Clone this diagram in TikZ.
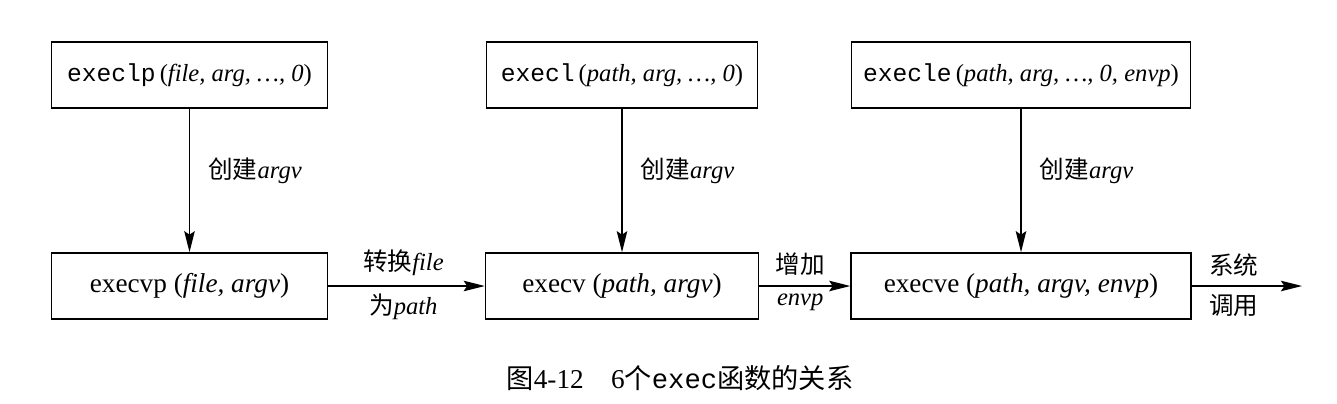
\documentclass[tikz,border=0pt]{standalone}
\usepackage{fontspec}
\setmainfont{Liberation Serif}
\setmonofont{Liberation Mono}
\newfontfamily\cjk{Noto Sans CJK SC}
\usetikzlibrary{arrows.meta,positioning}
\newcommand{\vname}[1]{{\rmfamily\itshape #1}}

\begin{document}
\begin{tikzpicture}[x=0.02cm,y=-0.02cm,font=\fontsize{14}{16}\selectfont,
   fn/.style={draw,line width=0.9pt,minimum height=1.32cm,inner sep=0pt},
   vfn/.style={fn,font=\fontsize{15.5}{18}\selectfont},
   flow/.style={-{Stealth[length=12pt,width=6pt,inset=2pt]},line width=0.8pt},
   lbl/.style={font=\fontsize{14}{16}\selectfont\cjk}]
  \useasboundingbox (0,0) rectangle (1337,403);
  % top row: list forms
  \node[fn,minimum width=5.52cm] (execlp) at (189.5,75) {\texttt{execlp}\,(\vname{file, arg, \ldots, 0})};
  \node[fn,minimum width=5.42cm] (execl) at (622,75) {\texttt{execl}\,(\vname{path, arg, \ldots, 0})};
  \node[fn,minimum width=6.78cm] (execle) at (1021,75) {\texttt{execle}\,(\vname{path, arg, \ldots, 0, envp})};
  % bottom row: vector forms
  \node[vfn,minimum width=5.52cm] (execvp) at (189.5,286) {execvp (\vname{file, argv})};
  \node[vfn,minimum width=5.46cm] (execv) at (622,286) {execv (\vname{path, argv})};
  \node[vfn,minimum width=6.8cm] (execve) at (1021,286) {execve (\vname{path, argv, envp})};
  \coordinate (kern) at (1302,286);
  \draw[flow] (execlp) -- node[lbl,pos=0.43,right=7pt]{创建\vname{argv}} (execvp);
  \draw[flow] (execl) -- node[lbl,pos=0.43,right=7pt]{创建\vname{argv}} (execv);
  \draw[flow] (execle) -- node[lbl,pos=0.43,right=7pt]{创建\vname{argv}} (execve);
  \draw[flow] (execvp) -- node[lbl,pos=0.48,above=2pt]{转换\vname{file}} node[lbl,pos=0.48,below=1pt]{为\vname{path}} (execv);
  \draw[flow] (execv) -- node[lbl,pos=0.45,above=2pt]{增加} node[lbl,pos=0.45,below=1pt]{\vname{envp}} (execve);
  \draw[flow] (execve) -- node[lbl,pos=0.38,above=2pt]{系统} node[lbl,pos=0.38,below=1pt]{调用} (kern);
  \node[font=\fontsize{15.5}{18}\selectfont] (caption) at (680,378) {{\cjk 图}4-12\quad 6{\cjk 个}\texttt{exec}{\cjk 函数的关系}};
\end{tikzpicture}
\end{document}
